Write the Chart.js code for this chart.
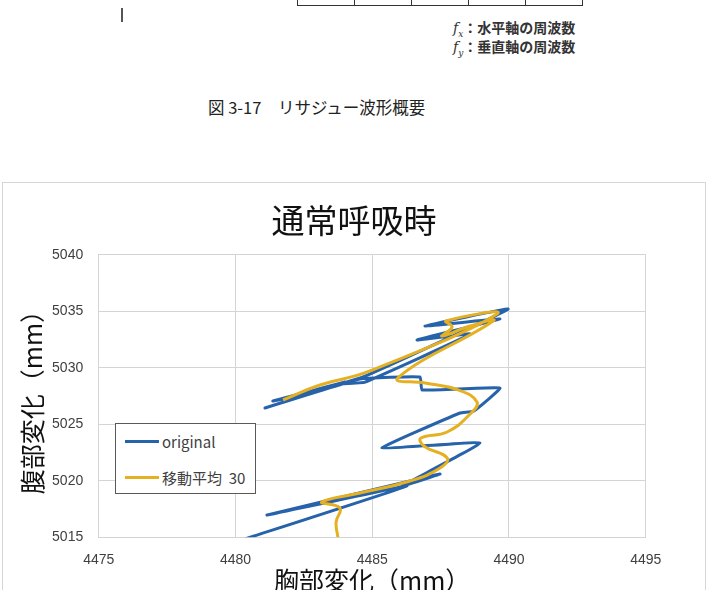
<!DOCTYPE html>
<html lang="ja">
<head>
<meta charset="utf-8">
<title>通常呼吸時</title>
<script src="https://cdn.jsdelivr.net/npm/chart.js@4.4.0/dist/chart.umd.min.js"></script>
<style>
  html, body { margin: 0; padding: 0; background: #fff; }
  body { width: 712px; height: 590px; overflow: hidden; position: relative; font-family: "Noto Sans CJK JP", sans-serif; color: #222; }

  /* ---- document fragment above the chart ---- */
  .doc-table { position: absolute; left: 297px; top: -20px; height: 25px; display: flex; border: 1.5px solid #333; border-top: none; }
  .doc-table div { width: 56px; border-right: 1.5px solid #333; }
  .doc-table div:last-child { border-right: none; }
  .doc-mark { position: absolute; left: 121px; top: 8px; width: 1.5px; height: 14px; background: #555; }
  .doc-note { position: absolute; left: 453px; font-size: 14px; line-height: 18px; font-weight: bold; color: #333; white-space: nowrap; }
  .doc-note i { font-family: "DejaVu Serif", serif; font-weight: normal; }
  .doc-note sub { font-size: 9px; font-style: italic; font-family: "DejaVu Serif", serif; font-weight: normal; }
  .caption { position: absolute; left: 208px; top: 96px; font-size: 16.5px; line-height: 22px; color: #222; white-space: nowrap; }

  /* ---- chart frame ---- */
  .frame { position: absolute; left: 2px; top: 182px; width: 702px; height: 430px; border: 1px solid #d6d6d6; }
  .frame canvas { position: absolute; left: 0; top: 0; }
  .legend { position: absolute; left: 112px; top: 240px; width: 139px; height: 69px; border: 1px solid #595959; background: #fff; }
  .legend .item { position: absolute; left: 9px; height: 20px; display: flex; align-items: center; font-size: 15px; color: #404040; white-space: pre; }
  .legend .swatch { width: 34px; height: 3px; margin-right: 3px; }
</style>
</head>
<body>

<div class="doc-table"><div></div><div></div><div></div><div></div><div></div></div>
<div class="doc-mark"></div>
<div class="doc-note" style="top:18px"><i>f</i><sub>x</sub>：水平軸の周波数</div>
<div class="doc-note" style="top:37px"><i>f</i><sub>y</sub>：垂直軸の周波数</div>
<div class="caption">図 3-17　リサジュー波形概要</div>

<div class="frame">
  <canvas id="chart" width="702" height="430"></canvas>
  <div class="legend" id="legend"></div>
</div>

<script>
/* ================= DATA ================= */
const chartTitle = "通常呼吸時";
const xTitle = "胸部変化（mm）";
const yTitle = "腹部変化（mm）";

const xTicks = [4475, 4480, 4485, 4490, 4495];
const yTicks = [5015, 5020, 5025, 5030, 5035, 5040];

const seriesNames = ["original", "移動平均  30"];

// original (chest x, abdomen y)
const originalX = [4480.35, 4486.27, 4481.15, 4486.38, 4487.48, 4486.09, 4488.94, 4485.36,
  4488.21, 4488.72, 4489.67, 4486.82, 4486.75, 4484.55, 4481.08, 4484.01, 4481.37, 4482.10,
  4484.74, 4489.97, 4486.93, 4489.67, 4486.64, 4488.58, 4484.74, 4483.82];
const originalY = [5014.85, 5019.54, 5016.97, 5019.98, 5020.60, 5019.54, 5023.35, 5022.90,
  5026.00, 5026.18, 5028.21, 5028.04, 5029.19, 5029.01, 5026.44, 5028.74, 5027.06, 5027.42,
  5029.27, 5035.20, 5033.70, 5034.32, 5032.46, 5032.99, 5028.74, 5028.57];

// moving average 30
const averageX = [4483.75, 4483.68, 4483.82, 4483.16, 4484.55, 4486.38, 4487.48, 4487.74,
  4486.89, 4486.78, 4487.74, 4488.58, 4488.83, 4488.14, 4486.93, 4485.94, 4489.42, 4488.58,
  4487.55, 4487.92, 4487.70, 4489.56, 4484.92, 4483.09, 4481.74];
const averageY = [5014.94, 5016.35, 5017.59, 5018.12, 5018.92, 5019.98, 5021.13, 5022.02,
  5023.08, 5023.79, 5024.32, 5025.91, 5026.97, 5028.04, 5028.65, 5029.10, 5034.14, 5033.70,
  5032.81, 5033.61, 5034.14, 5034.76, 5029.72, 5028.48, 5027.15];

/* ================= CHART ================= */
const toPoints = (xs, ys) => xs.map((x, i) => ({ x: x, y: ys[i] }));

const tickFont = { family: "'Liberation Sans', sans-serif", size: 14 };
const titleFont = { family: "'Noto Sans CJK JP', sans-serif", size: 25 };

const chart = new Chart(document.getElementById("chart"), {
  type: "scatter",
  data: {
    datasets: [
      {
        label: seriesNames[0],
        data: toPoints(originalX, originalY),
        showLine: true,
        borderColor: "#2763aa",
        backgroundColor: "#2763aa",
        borderWidth: 3,
        pointRadius: 0,
        tension: 0.1,
        order: 2
      },
      {
        label: seriesNames[1],
        data: toPoints(averageX, averageY),
        showLine: true,
        borderColor: "#e5b022",
        backgroundColor: "#e5b022",
        borderWidth: 3,
        pointRadius: 0,
        tension: 0.45,
        order: 1
      }
    ]
  },
  options: {
    responsive: false,
    animation: false,
    layout: { padding: 0 },
    plugins: {
      legend: { display: false },
      tooltip: { enabled: false },
      title: {
        display: true,
        text: chartTitle,
        color: "#111",
        font: { family: "'Noto Sans CJK JP', sans-serif", size: 33, weight: "normal" },
        padding: { top: 17.2, bottom: 15 }
      }
    },
    scales: {
      x: {
        type: "linear",
        min: xTicks[0],
        max: xTicks[xTicks.length - 1],
        afterBuildTicks: s => { s.ticks = xTicks.map(v => ({ value: v })); },
        afterFit: s => { s.height = 75.7; },
        grid: { color: "#d4d4d4", drawTicks: false },
        border: { color: "#d4d4d4" },
        ticks: { color: "#404040", font: tickFont, padding: 14, maxRotation: 0, callback: v => String(v) },
        title: { display: true, text: xTitle, color: "#111", font: titleFont, padding: { top: 0, bottom: 17.5 } }
      },
      y: {
        type: "linear",
        min: yTicks[0],
        max: yTicks[yTicks.length - 1],
        afterBuildTicks: s => { s.ticks = yTicks.map(v => ({ value: v })); },
        afterFit: s => { s.width = 95.7; },
        grid: { color: "#d4d4d4", drawTicks: false },
        border: { color: "#d4d4d4" },
        ticks: { color: "#404040", font: tickFont, padding: 15.5, callback: v => String(v) },
        title: { display: true, text: yTitle, color: "#111", font: titleFont, padding: { top: 14.5, bottom: 0 } }
      },
      // empty right axis, only keeps the plot area off the right edge
      yRight: {
        type: "linear",
        position: "right",
        afterFit: s => { s.width = 59.3; },
        grid: { display: false },
        border: { display: false },
        ticks: { display: false }
      }
    }
  }
});

/* ================= LEGEND ================= */
const legendEl = document.getElementById("legend");
const legendTops = [7, 43];
chart.data.datasets.forEach((ds, i) => {
  const item = document.createElement("div");
  item.className = "item";
  item.style.top = legendTops[i] + "px";
  item.innerHTML = `<span class="swatch" style="background:${ds.borderColor}"></span><span>${ds.label}</span>`;
  legendEl.appendChild(item);
});
</script>
</body>
</html>
